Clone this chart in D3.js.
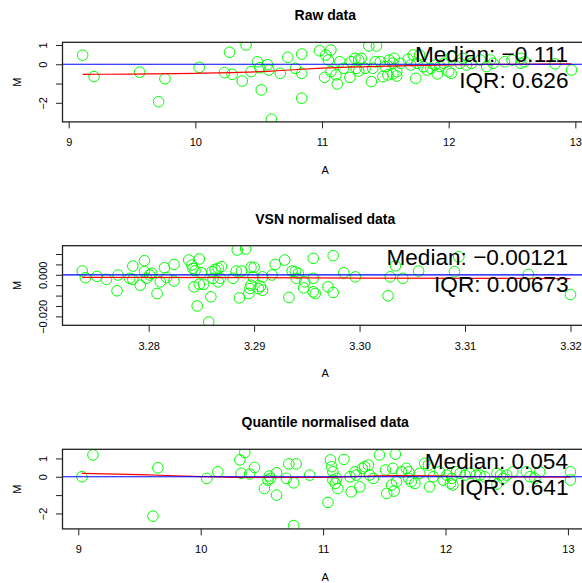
<!DOCTYPE html>
<html>
<head>
<meta charset="utf-8">
<script src="https://cdn.jsdelivr.net/npm/d3@7"></script>
<style>
  body { margin: 0; background: #fff; }
  svg { display: block; }
  text { font-family: "Liberation Sans", Arial, Helvetica, sans-serif; fill: #000; }
</style>
</head>
<body>
<div id="chart"></div>
<script>
// --- data ---
const rawA = [9.11, 9.20, 9.56, 9.71, 9.76, 10.03, 10.23, 10.27, 10.29, 10.37, 10.40, 10.44, 10.49, 10.51, 10.52, 10.57, 10.58, 10.60, 10.67, 10.73,
    10.79, 10.84, 10.84, 10.84, 10.98, 11.02, 11.03, 11.07, 11.05, 11.07, 11.11, 11.12, 11.14, 11.17, 11.22, 11.23, 11.26, 11.27, 11.29, 11.29,
    11.31, 11.34, 11.37, 11.39, 11.40, 11.43, 11.42, 11.46, 11.48, 11.50, 11.52, 11.53, 11.56, 11.57, 11.56, 11.59, 11.59, 11.62, 11.68, 11.70,
    11.72, 11.74, 11.75, 11.77, 11.80, 11.83, 11.86, 11.89, 11.91, 11.93, 11.96, 12.00, 12.02, 12.02, 12.09, 12.11, 12.14, 12.18, 12.25, 12.30,
    12.33, 12.35, 12.44, 12.50, 12.57, 12.57, 12.60, 12.84, 12.97];
const rawM = [0.47, -0.64, -0.41, -1.94, -0.75, -0.16, -0.43, 0.62, -0.52, -0.87, 1.00, -0.38, 0.13, -0.18, -1.33, -0.02, -0.30, -2.85, -0.47, 0.36,
    -0.21, 0.53, -0.47, -1.76, 0.70, -0.68, 0.48, 0.74, 0.22, -0.38, -0.55, -1.02, 0.13, -0.21, -0.68, 0.13, 0.31, -0.21, 0.22, -0.35,
    0.31, -0.21, 0.95, -0.90, -0.21, 0.95, 0.13, 0.13, -0.64, -0.12, -0.55, 0.22, 0.05, 0.31, -0.50, -0.38, -0.61, 0.05, 0.26, -0.04,
    0.48, -0.73, 0.05, 0.48, -0.12, -0.30, -0.21, -0.04, -0.50, -0.12, 0.05, -0.38, -0.47, 0.39, 0.05, 0.31, -0.04, 0.05, 0.22, -0.12,
    0.22, 0.05, 0.13, 0.22, 0.31, 0.05, 0.13, 0.02, -0.30];
const rawFitA = [9.11, 9.5, 10.0, 10.3, 10.6, 10.8, 11.0, 11.3, 11.6, 11.9, 12.3, 12.97];
const rawFitM = [-0.52, -0.51, -0.47, -0.43, -0.36, -0.27, -0.20, -0.13, -0.08, -0.04, -0.01, 0.02];

const vsnA = [3.2737, 3.2740, 3.2751, 3.2760, 3.2770, 3.2771, 3.2785, 3.2782, 3.2785, 3.2792, 3.2796, 3.2796, 3.2798, 3.2801, 3.2803, 3.2808,
    3.2811, 3.2815, 3.2817, 3.2824, 3.2824, 3.2838, 3.2841, 3.2842, 3.2844, 3.2848, 3.2843, 3.2846, 3.2848, 3.2850, 3.2852, 3.2857,
    3.2859, 3.2860, 3.2861, 3.2863, 3.2866, 3.2866, 3.2868, 3.2869, 3.2880, 3.2883, 3.2884, 3.2886, 3.2888, 3.2892, 3.2895, 3.2896,
    3.2897, 3.2897, 3.2899, 3.2900, 3.2904, 3.2906, 3.2908, 3.2908, 3.2917, 3.2920, 3.2929, 3.2933, 3.2936, 3.2939, 3.2942, 3.2940,
    3.2948, 3.2947, 3.2956, 3.2956, 3.2956, 3.2958, 3.2970, 3.2975, 3.2975, 3.2985, 3.2996, 3.3027, 3.3029, 3.3034, 3.3041, 3.3056,
    3.3090, 3.3094, 3.3160, 3.3200];
const vsnM = [0.0018, -0.0014, -0.0008, -0.0022, -0.0077, -0.0001, 0.0042, -0.0017, -0.0022, -0.0050, 0.0068, 0.0015, -0.0017, -0.0001, 0.0007, -0.0090,
    -0.0034, 0.0034, -0.0013, 0.0050, -0.0030, 0.0071, 0.0047, 0.0031, 0.0019, 0.0076, -0.0058, -0.0150, -0.0045, 0.0010, -0.0046, -0.0227,
    -0.0106, 0.0015, -0.0017, 0.0026, 0.0031, -0.0034, -0.0017, 0.0039, -0.0017, 0.0018, 0.0119, -0.0111, 0.0018, 0.0124, -0.0090, -0.0066,
    0.0036, -0.0050, -0.0010, 0.0036, -0.0066, -0.0055, -0.0074, -0.0010, -0.0001, 0.0050, 0.0071, -0.0109, 0.0018, 0.0015, 0.0007, -0.0017,
    -0.0034, -0.0063, 0.0079, -0.0017, -0.0082, -0.0090, -0.0058, -0.0085, 0.0092, 0.0010, -0.0010, -0.0101, -0.0010, 0.0043, -0.0017, 0.0018,
    0.0015, 0.0087, 0.0002, -0.0095];
const vsnFitA = [3.2737, 3.29, 3.30, 3.32];
const vsnFitM = [-0.0012, -0.0014, -0.0016, -0.0018];

const quantA = [9.03, 9.12, 9.61, 9.65, 10.05, 10.14, 10.32, 10.36, 10.33, 10.40, 10.44, 10.52, 10.56, 10.57, 10.55, 10.62, 10.62, 10.70, 10.72, 10.78,
    10.76, 10.76, 10.89, 11.04, 11.06, 11.07, 11.08, 11.08, 11.10, 11.12, 11.17, 11.11, 11.22, 11.23, 11.26, 11.27, 11.30, 11.32, 11.34, 11.37,
    11.38, 11.46, 11.41, 11.51, 11.52, 11.56, 11.58, 11.59, 11.57, 11.60, 11.64, 11.70, 11.72, 11.70, 11.75, 11.68, 11.79, 11.83, 11.86, 11.87,
    11.90, 11.95, 11.98, 12.01, 12.04, 12.05, 12.06, 12.09, 12.12, 12.16, 12.20, 12.25, 12.28, 12.32, 12.42, 12.42, 12.45, 12.47, 12.50, 12.55,
    12.66, 12.69, 12.73, 12.77, 13.02, 13.02];
const quantM = [0.00, 1.19, -2.15, 0.49, -0.09, 0.27, 0.92, 1.32, 0.19, 0.15, 0.51, -0.64, 0.04, -0.09, -0.18, 0.22, -1.00, -0.09, 0.70, 0.70,
    -0.33, -2.66, 0.09, -1.40, 0.92, 0.55, 0.27, -0.18, -0.36, -0.64, 0.95, -0.09, 0.00, -0.82, 0.27, 0.09, -0.55, 0.46, 0.55, 0.64,
    0.09, 1.19, -0.09, 0.37, -0.91, -0.45, -0.78, 1.23, 0.46, -0.27, 0.27, 0.27, -0.27, -0.09, -0.36, 0.46, 0.19, 0.73, 0.64, -0.55,
    0.00, 0.27, -0.18, 0.09, -0.36, -0.09, -0.45, 0.27, 0.19, 0.09, 0.19, 0.09, 0.09, 0.00, 0.19, -0.40, 0.09, -0.09, 0.09, 0.27,
    0.27, 0.00, -0.09, 0.27, 0.27, -0.18];
const quantFitA = [9.03, 9.5, 10.0, 10.5, 11.0, 11.3, 11.6, 11.9, 12.3, 13.02];
const quantFitM = [0.19, 0.12, 0.01, -0.04, -0.03, 0.02, 0.06, 0.05, 0.0, -0.02];

const titles = ["Raw data", "VSN normalised data", "Quantile normalised data"];
const medianLabels = ["Median: \u22120.111", "Median: \u22120.00121", "Median: 0.054"];
const iqrLabels = ["IQR: 0.626", "IQR: 0.00673", "IQR: 0.641"];
const xLimits = [[8.951, 13.10], [3.27183, 3.32166], [8.871, 13.164]];
const yLimits = [[-2.99, 1.14], [-0.0243, 0.0140], [-2.842, 1.497]];
const xTickValues = [[9, 10, 11, 12, 13], [3.28, 3.29, 3.30, 3.31, 3.32], [9, 10, 11, 12, 13]];
const yTickValues = [[-2, -1, 0, 1], [-0.02, -0.015, -0.01, -0.005, 0, 0.005, 0.01], [-2, -1, 0, 1]];
const yTickShown = [[-2, 0, 1], [-0.02, 0], [-2, 0, 1]];

// --- layout ---
const width = 582;
const height = 583;
const left = 62.5;
const right = 588;   // plot box runs past the visible edge
const boxTops = [42.3, 245.7, 449.3];
const boxHeight = 79.6;
const tickLen = 6.5;

const svg = d3.select("#chart")
    .append("svg")
    .attr("width", width)
    .attr("height", height)
    .attr("viewBox", [0, 0, width, height]);

const panels = [
    { A: rawA, M: rawM, fitA: rawFitA, fitM: rawFitM, xFmt: d3.format("d"), yFmt: d3.format("d") },
    { A: vsnA, M: vsnM, fitA: vsnFitA, fitM: vsnFitM, xFmt: d3.format(".2f"), yFmt: d3.format(".3f") },
    { A: quantA, M: quantM, fitA: quantFitA, fitM: quantFitM, xFmt: d3.format("d"), yFmt: d3.format("d") }
];

panels.forEach((p, i) => {
    const top = boxTops[i];
    const bottom = top + boxHeight;

    const x = d3.scaleLinear().domain(xLimits[i]).range([left, right]);
    const y = d3.scaleLinear().domain(yLimits[i]).range([bottom, top]);

    const g = svg.append("g");

    g.append("clipPath")
        .attr("id", "clip" + i)
        .append("rect")
        .attr("x", left)
        .attr("y", top)
        .attr("width", right - left)
        .attr("height", boxHeight);

    const plot = g.append("g").attr("clip-path", `url(#clip${i})`);

    plot.selectAll("circle")
        .data(p.A.map((a, k) => [a, p.M[k]]))
        .enter()
        .append("circle")
        .attr("cx", d => x(d[0]))
        .attr("cy", d => y(d[1]))
        .attr("r", 5.3)
        .attr("fill", "none")
        .attr("stroke", "#00ff00")
        .attr("stroke-width", 1);

    const fitLine = d3.line()
        .x(d => x(d[0]))
        .y(d => y(d[1]))
        .curve(d3.curveMonotoneX);

    plot.append("path")
        .datum(p.fitA.map((a, k) => [a, p.fitM[k]]))
        .attr("d", fitLine)
        .attr("fill", "none")
        .attr("stroke", "#ff0000")
        .attr("stroke-width", 1.2);

    plot.append("line")
        .attr("x1", left)
        .attr("x2", right)
        .attr("y1", y(0))
        .attr("y2", y(0))
        .attr("stroke", "#0000ff")
        .attr("stroke-width", 1.2);

    // x axis
    const xAxis = g.append("g")
        .attr("transform", `translate(0,${bottom})`)
        .call(d3.axisBottom(x)
            .tickValues(xTickValues[i])
            .tickSize(tickLen)
            .tickPadding(10)
            .tickFormat(p.xFmt));
    xAxis.select(".domain").remove();
    xAxis.selectAll("line").attr("stroke", "#222");
    xAxis.selectAll("text")
        .attr("fill", "#000")
        .style("font-size", "11px")
        .style("font-family", "\"Liberation Sans\", Arial, sans-serif");

    // y axis, labels parallel to the axis
    const shown = yTickShown[i];
    const yAxis = g.append("g")
        .attr("transform", `translate(${left},0)`)
        .call(d3.axisLeft(y)
            .tickValues(yTickValues[i])
            .tickSize(tickLen)
            .tickFormat(v => shown.some(s => Math.abs(s - v) < 1e-9) ? p.yFmt(v) : ""));
    yAxis.select(".domain").remove();
    yAxis.selectAll("line").attr("stroke", "#222");
    yAxis.selectAll("text")
        .attr("x", null)
        .attr("dy", null)
        .attr("fill", "#000")
        .attr("text-anchor", "middle")
        .attr("transform", `translate(${46.7 - left},0) rotate(-90)`)
        .style("font-size", "11px")
        .style("font-family", "\"Liberation Sans\", Arial, sans-serif");

    // box
    g.append("rect")
        .attr("x", left)
        .attr("y", top)
        .attr("width", right - left)
        .attr("height", boxHeight)
        .attr("fill", "none")
        .attr("stroke", "#222")
        .attr("stroke-width", 1.3);

    // titles and axis labels
    g.append("text")
        .attr("x", (left + right) / 2)
        .attr("y", top - 22)
        .attr("text-anchor", "middle")
        .style("font-size", "14px")
        .style("font-weight", "bold")
        .text(titles[i]);

    g.append("text")
        .attr("x", (left + right) / 2)
        .attr("y", bottom + 52)
        .attr("text-anchor", "middle")
        .style("font-size", "11px")
        .text("A");

    g.append("text")
        .attr("transform", `translate(20.7,${(top + bottom) / 2}) rotate(-90)`)
        .attr("text-anchor", "middle")
        .style("font-size", "11px")
        .text("M");

    g.append("text")
        .attr("x", 568)
        .attr("y", top + 19.2)
        .attr("text-anchor", "end")
        .style("font-size", "22.6px")
        .text(medianLabels[i]);

    g.append("text")
        .attr("x", 568.5)
        .attr("y", top + 46)
        .attr("text-anchor", "end")
        .style("font-size", "22.6px")
        .text(iqrLabels[i]);
});
</script>
</body>
</html>
